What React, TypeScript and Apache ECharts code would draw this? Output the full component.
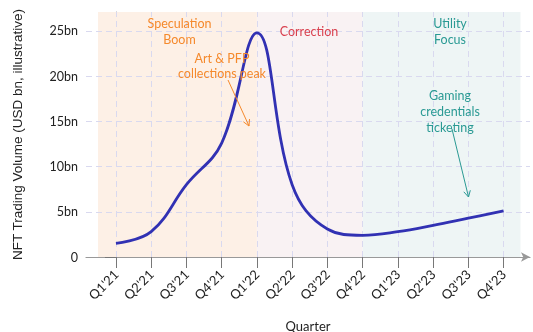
import React, { useEffect, useRef } from "react";
import * as echarts from "echarts";

const quarters = ["Q1'21", "Q2'21", "Q3'21", "Q4'21", "Q1'22", "Q2'22", "Q3'22", "Q4'22", "Q1'23", "Q2'23", "Q3'23", "Q4'23"];
const volume = [1.5, 2.8, 8.0, 12.6, 24.8, 8.0, 3.1, 2.4, 2.8, 3.5, 4.3, 5.1];
const yTicks = [0, 5, 10, 15, 20, 25];
const phases = [
  { name: "Speculation Boom", from: -0.51, to: 4, color: "#fdf0e6" },
  { name: "Correction", from: 4, to: 7, color: "#f9f2f3" },
  { name: "Utility Focus", from: 7, to: 11.48, color: "#eef5f5" },
];

const FONT = "Lato, 'Noto Sans', sans-serif";
const ORANGE = "#f5892c";
const RED = "#d9414f";
const TEAL = "#2a9a94";

function arrow(x1: number, y1: number, x2: number, y2: number, color: string) {
  const ang = Math.atan2(y2 - y1, x2 - x1);
  const L = 7;
  const a1 = ang + Math.PI - 0.5;
  const a2 = ang + Math.PI + 0.5;
  return [
    { type: "line", shape: { x1, y1, x2, y2 }, style: { stroke: color, lineWidth: 1 }, z: 10 },
    {
      type: "polyline",
      shape: {
        points: [
          [x2 + L * Math.cos(a1), y2 + L * Math.sin(a1)],
          [x2, y2],
          [x2 + L * Math.cos(a2), y2 + L * Math.sin(a2)],
        ],
      },
      style: { stroke: color, lineWidth: 1, fill: null },
      z: 10,
    },
  ];
}

function label(text: string, x: number, y: number, color: string, lh = 16) {
  return {
    type: "text",
    x,
    y,
    z: 10,
    style: {
      text,
      fill: color,
      fontFamily: FONT,
      fontSize: 12.5,
      align: "center",
      verticalAlign: "middle",
      lineHeight: lh,
    },
  };
}

export default function App() {
  const ref = useRef<HTMLDivElement>(null);
  useEffect(() => {
    if (!ref.current) return;
    const chart = echarts.init(ref.current, undefined, { renderer: "svg" });
    const idx = quarters.map((_, i) => i);
    const gridStyle = { color: "#d9d9ef", type: [6, 4] as any, width: 1 };
    chart.setOption({
      animation: false,
      textStyle: { fontFamily: FONT },
      grid: { left: 86, right: 3, top: 12, bottom: 75, containLabel: false, outerBoundsMode: "none" },
      xAxis: {
        type: "value",
        min: -0.85,
        max: 11.75,
        name: "Quarter",
        nameLocation: "middle",
        nameGap: 62,
        nameTextStyle: { fontSize: 13, color: "#222", fontFamily: FONT },
        axisLine: { show: true, lineStyle: { color: "#999", width: 1.2 }, symbol: ["none", "arrow"], symbolSize: [7, 9] },
        axisTick: { show: true, customValues: idx, length: 11, lineStyle: { color: "#777" } },
        axisLabel: {
          customValues: idx,
          formatter: (v: number) => quarters[Math.round(v)] ?? "",
          rotate: 45,
          fontSize: 13,
          color: "#222",
          margin: 15,
          fontFamily: FONT,
        },
        splitLine: { show: false },
      },
      yAxis: {
        type: "value",
        min: 0,
        max: 27.1,
        name: "NFT Trading Volume (USD bn, illustrative)",
        nameLocation: "middle",
        nameGap: 62,
        nameTextStyle: { fontSize: 13.5, color: "#222", fontFamily: "'Liberation Sans', Arial, sans-serif" },
        axisLine: { show: true, lineStyle: { color: "#999", width: 1.2 }, symbol: ["none", "arrow"], symbolSize: [7, 9] },
        axisTick: { show: true, customValues: yTicks, length: 11, lineStyle: { color: "#777" } },
        axisLabel: {
          customValues: yTicks,
          formatter: (v: number) => (v === 0 ? "0" : `${v}bn`),
          fontSize: 12.5,
          color: "#222",
          margin: 8,
          fontFamily: FONT,
        },
        splitLine: { show: false },
      },
      series: [
        {
          type: "line",
          data: [],
          silent: true,
          z: 1,
          markArea: {
            silent: true,
            data: phases.map((p) => [
              { xAxis: p.from, itemStyle: { color: p.color } },
              { xAxis: p.to },
            ]),
          },
        },
        {
          type: "line",
          data: [],
          silent: true,
          z: 2,
          markLine: {
            silent: true,
            symbol: "none",
            label: { show: false },
            lineStyle: gridStyle,
            data: [
              ...idx.map((i) => ({ xAxis: i })),
              ...yTicks.filter((v) => v > 0).map((v) => ({ yAxis: v })),
            ],
          },
        },
        {
          type: "line",
          data: volume.map((v, i) => [i, v]),
          smooth: 0.4,
          showSymbol: false,
          symbol: "none",
          z: 5,
          lineStyle: { color: "#3131b3", width: 2.8 },
          itemStyle: { color: "#3131b3" },
        },
      ],
      graphic: [
        label("Speculation\nBoom", 179.5, 31, ORANGE),
        label("Art & PFP\ncollections peak", 222, 65.5, ORANGE, 15),
        label("Correction", 309, 31, RED),
        label("Utility\nFocus", 450, 31, TEAL),
        label("Gaming\ncredentials\nticketing", 450, 111, TEAL),
        ...arrow(228, 80, 249, 126, ORANGE),
        ...arrow(452, 129, 468.5, 197, TEAL),
      ],
    });
    return () => chart.dispose();
  }, []);
  return <div ref={ref} style={{ width: 533, height: 332, position: "fixed", left: 0, top: 0 }} />;
}
